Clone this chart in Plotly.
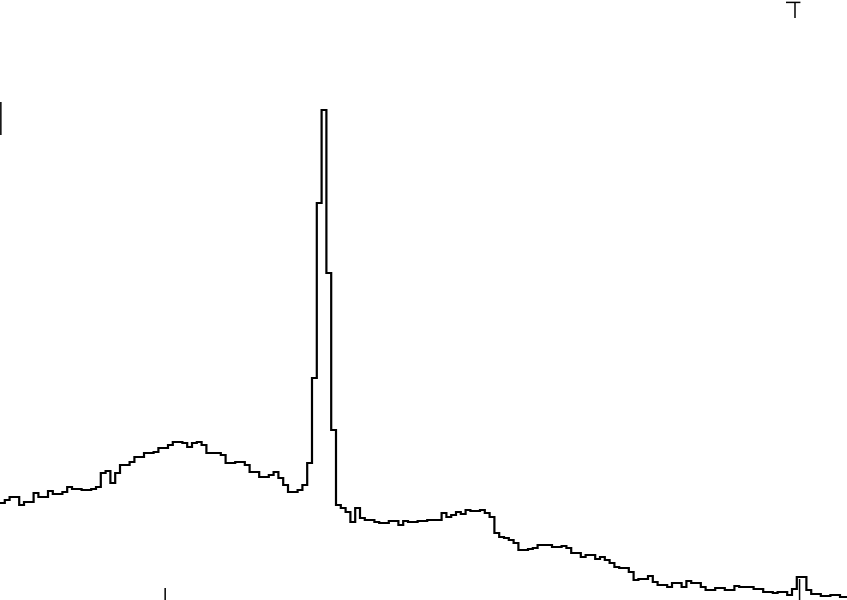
import plotly.graph_objects as go

# Counts per channel (arbitrary units)
counts = [
    97, 100, 103, 103, 95, 98, 98, 107, 103, 103,
    109, 106, 106, 108, 113, 111, 111, 110, 110, 111,
    113, 127, 129, 117, 127, 135, 135, 138, 143, 143,
    147, 147, 148, 152, 152, 155, 158, 158, 157, 153,
    157, 158, 155, 147, 147, 147, 145, 137, 137, 138,
    138, 135, 128, 128, 123, 123, 125, 128, 122, 115,
    108, 108, 110, 115, 137, 222, 397, 490, 327, 170,
    95, 92, 88, 78, 92, 82, 80, 80, 78, 77,
    77, 79, 79, 75, 79, 78, 78, 79, 79, 80,
    80, 80, 87, 83, 85, 88, 86, 90, 89, 89,
    90, 87, 83, 67, 63, 62, 60, 57, 50, 50,
    51, 52, 55, 55, 55, 53, 53, 54, 52, 47,
    47, 43, 45, 45, 41, 43, 40, 37, 33, 32,
    32, 28, 20, 21, 21, 24, 18, 15, 15, 13,
    17, 17, 13, 19, 17, 17, 13, 10, 10, 12,
    12, 10, 10, 14, 13, 13, 13, 11, 11, 8,
    8, 7, 8, 8, 5, 11, 23, 23, 10, 6,
    6, 4, 4, 5, 5, 3, 3,
]
channels = list(range(len(counts) + 1))
values = counts + [counts[-1]]

fig = go.Figure()
fig.add_trace(go.Scatter(
    x=channels, y=values, mode="lines", line_shape="hv",
    line=dict(color="black", width=2.2), hoverinfo="skip", showlegend=False,
))

# small marker artifacts on the scanned sheet
marks = [
    dict(x0=0.928, x1=0.945, y0=0.996, y1=0.996),
    dict(x0=0.9386, x1=0.9386, y0=0.996, y1=0.97),
    dict(x0=0.195, x1=0.195, y0=0.0, y1=0.02),
    dict(x0=0.944, x1=0.944, y0=0.0, y1=0.035),
    dict(x0=0.001, x1=0.001, y0=0.775, y1=0.83),
]
for m in marks:
    fig.add_shape(type="line", xref="paper", yref="paper",
                  line=dict(color="black", width=1.5), **m)

fig.update_layout(
    width=847, height=600,
    margin=dict(l=0, r=0, t=0, b=0),
    paper_bgcolor="white", plot_bgcolor="white",
    xaxis=dict(range=[0, 847 / 4.8], visible=False, showgrid=False, zeroline=False),
    yaxis=dict(range=[0, 600], visible=False, showgrid=False, zeroline=False),
)
fig.write_html("out.html", config={"displayModeBar": False, "staticPlot": True},
               post_script="document.body.style.margin='0';document.body.style.overflow='hidden';")
